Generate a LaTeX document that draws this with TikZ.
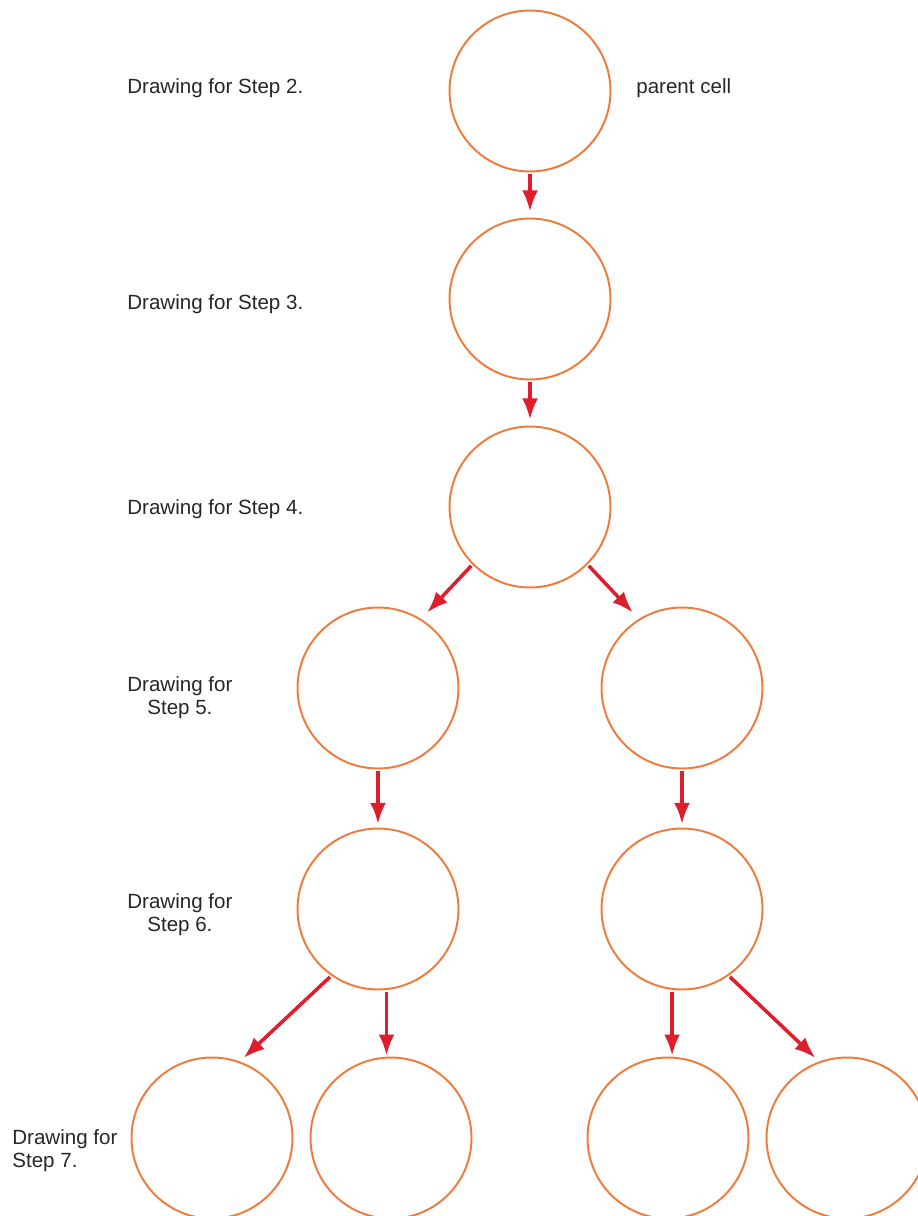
\documentclass[tikz,border=0pt]{standalone}
\usepackage{fontspec}
\setmainfont{Liberation Sans}
\usetikzlibrary{arrows.meta}
\definecolor{cellorange}{RGB}{240,122,60}
\definecolor{arrred}{RGB}{222,30,42}
\tikzset{
  cell/.style={circle, draw=cellorange, line width=1.1pt, minimum size=3.22cm, inner sep=0pt},
  arr/.style={draw=arrred, line width=2pt, -{Latex[length=12pt,width=9pt]}, shorten <=1pt},
  steptext/.style={font=\fontsize{11.7}{13}\selectfont, text=black!85, inner sep=0pt}
}

\begin{document}
\begin{tikzpicture}[x=0.02cm, y=-0.02cm]
\useasboundingbox (0,0) rectangle (918,1216);

% cells
\node[cell] (A) at (530,91) {};
\node[cell] (B) at (530,299) {};
\node[cell] (C) at (530,507) {};
\node[cell] (D1) at (378,688) {};
\node[cell] (D2) at (682,688) {};
\node[cell] (E1) at (378,909) {};
\node[cell] (E2) at (682,909) {};
\node[cell] (F1) at (212,1138) {};
\node[cell] (F2) at (391,1138) {};
\node[cell] (F3) at (668,1138) {};
\node[cell] (F4) at (847,1138) {};

% labels
\node[steptext, anchor=west] (s2) at (127,88) {Drawing for Step 2.};
\node[steptext, anchor=west] (pc) at (636,88) {parent cell};
\node[steptext, anchor=west] (s3) at (127,304) {Drawing for Step 3.};
\node[steptext, anchor=west] (s4) at (127,509) {Drawing for Step 4.};
\node[steptext, anchor=west, align=center] (s5) at (127,698) {Drawing for\\Step 5.};
\node[steptext, anchor=west, align=center] (s6) at (127,915) {Drawing for\\Step 6.};
\node[steptext, anchor=west, align=left] (s7) at (12,1151) {Drawing for\\Step 7.};

% arrows
\draw[arr, shorten >=3.4pt] (A) -- (B);
\draw[arr, shorten >=3.4pt] (B) -- (C);
\draw[arr, shorten >=5pt] (C.-135) -- (D1.58);
\draw[arr, shorten >=5pt] (C.-45) -- (D2.122);
\draw[arr, shorten >=2pt] (D1) -- (E1);
\draw[arr, shorten >=2pt] (D2) -- (E2);
\draw[arr, shorten >=3pt] (E1.-125) -- (F1.70);
\draw[arr, shorten >=0.5pt] (E1.-84) -- (E1.-84 |- F2.north);
\draw[arr, shorten >=0.5pt] (E2.-97) -- (E2.-97 |- F3.north);
\draw[arr, shorten >=3pt] (E2.-55) -- (F4.110);
\end{tikzpicture}
\end{document}
